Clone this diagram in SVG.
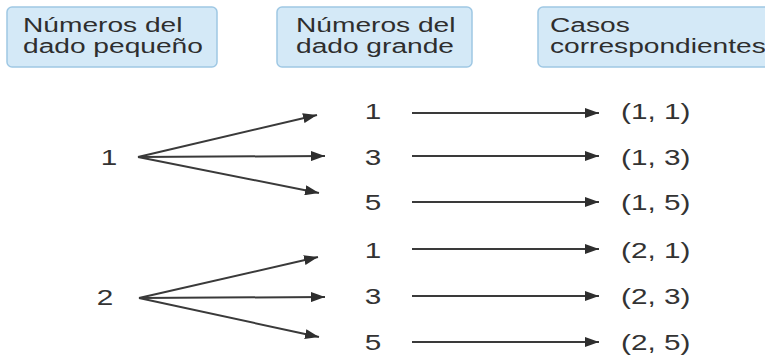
<svg xmlns="http://www.w3.org/2000/svg" width="765" height="356" viewBox="0 0 765 356">
<style>
.box{fill:#d4e9f7;stroke:#9fc8e4;stroke-width:1.5}
.h{font-family:"Liberation Sans",Arial,sans-serif;font-size:21px;fill:#2e2e2e}
.n{font-family:"Liberation Sans",Arial,sans-serif;font-size:22px;fill:#333}
.m{text-anchor:middle}
.c line{stroke:#3a3a3a;stroke-width:2;marker-end:url(#ah)}
</style>
<defs>
<marker id="ah" viewBox="0 0 14 10" refX="14" refY="5" markerWidth="14" markerHeight="10" markerUnits="userSpaceOnUse" orient="auto">
<path d="M0,0 L14,5 L0,10 Z" fill="#2e2e2e"/>
</marker>
</defs>
<rect width="765" height="356" fill="#fff"/>
<g id="head1">
<rect class="box" x="7" y="7" width="210" height="60" rx="5"/>
<text class="h" transform="translate(23 32) scale(1.34 1)">Números del</text>
<text class="h" transform="translate(23 53) scale(1.34 1)">dado pequeño</text>
</g>
<g id="head2">
<rect class="box" x="277" y="7" width="195" height="60" rx="5"/>
<text class="h" transform="translate(296 32) scale(1.34 1)">Números del</text>
<text class="h" transform="translate(296 53) scale(1.34 1)">dado grande</text>
</g>
<g id="head3">
<rect class="box" x="538" y="7" width="240" height="60" rx="5"/>
<text class="h" transform="translate(550 32) scale(1.34 1)">Casos</text>
<text class="h" transform="translate(550 53) scale(1.34 1)">correspondientes</text>
</g>
<g id="small1"><text class="n m" transform="translate(109 165) scale(1.35 1)">1</text></g>
<g id="small2"><text class="n m" transform="translate(105 305) scale(1.35 1)">2</text></g>
<g id="big1a"><text class="n m" transform="translate(373 119) scale(1.35 1)">1</text></g>
<g id="big3a"><text class="n m" transform="translate(373 165) scale(1.35 1)">3</text></g>
<g id="big5a"><text class="n m" transform="translate(373 210) scale(1.35 1)">5</text></g>
<g id="big1b"><text class="n m" transform="translate(373 258) scale(1.35 1)">1</text></g>
<g id="big3b"><text class="n m" transform="translate(373 304) scale(1.35 1)">3</text></g>
<g id="big5b"><text class="n m" transform="translate(373 350) scale(1.35 1)">5</text></g>
<g id="case11"><text class="n" transform="translate(621 119) scale(1.35 1)">(1, 1)</text></g>
<g id="case13"><text class="n" transform="translate(621 165) scale(1.35 1)">(1, 3)</text></g>
<g id="case15"><text class="n" transform="translate(621 210) scale(1.35 1)">(1, 5)</text></g>
<g id="case21"><text class="n" transform="translate(621 258) scale(1.35 1)">(2, 1)</text></g>
<g id="case23"><text class="n" transform="translate(621 304) scale(1.35 1)">(2, 3)</text></g>
<g id="case25"><text class="n" transform="translate(621 350) scale(1.35 1)">(2, 5)</text></g>
<g id="connectors" class="c">
<line x1="138" y1="157" x2="317" y2="115"/>
<line x1="138" y1="157" x2="325" y2="156"/>
<line x1="138" y1="157" x2="319" y2="193"/>
<line x1="139" y1="298" x2="318" y2="257"/>
<line x1="139" y1="298" x2="325" y2="297"/>
<line x1="139" y1="298" x2="319" y2="337"/>
<line x1="412" y1="113" x2="599" y2="113"/>
<line x1="412" y1="156" x2="599" y2="156"/>
<line x1="412" y1="202" x2="599" y2="202"/>
<line x1="412" y1="249" x2="599" y2="249"/>
<line x1="412" y1="296" x2="599" y2="296"/>
<line x1="412" y1="342" x2="599" y2="342"/>
</g>
</svg>
